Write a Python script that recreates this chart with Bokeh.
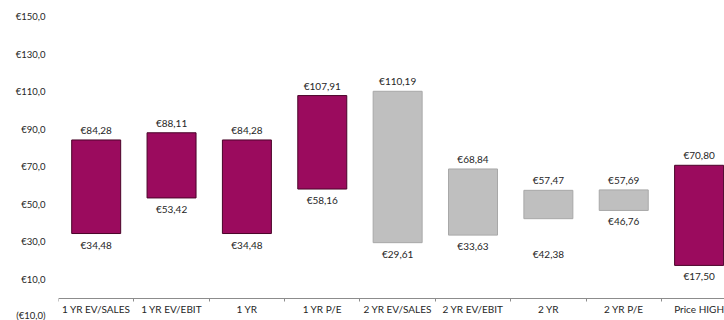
from bokeh.plotting import figure
from bokeh.models import Range1d, FixedTicker, LinearAxis, ColumnDataSource
from bokeh.embed import file_html
from bokeh.resources import INLINE
from bokeh.core.properties import value

categories = ["1 YR EV/SALES", "1 YR EV/EBIT", "1 YR\nEV/EBITDA", "1 YR P/E",
              "2 YR EV/SALES", "2 YR EV/EBIT", "2 YR\nEV/EBITDA", "2 YR P/E",
              "Price HIGH\nLOW"]
high = [84.28, 88.11, 84.28, 107.91, 110.19, 68.84, 57.47, 57.69, 70.80]
low = [34.48, 53.42, 34.48, 58.16, 29.61, 33.63, 42.38, 46.76, 17.50]
group = ["1yr", "1yr", "1yr", "1yr", "2yr", "2yr", "2yr", "2yr", "price"]
y_ticks = [-10, 10, 30, 50, 70, 90, 110, 130, 150]
y_tick_labels = ["(€10,0)", "€10,0", "€30,0", "€50,0", "€70,0", "€90,0",
                 "€110,0", "€130,0", "€150,0"]

MAGENTA = "#9b0b5e"
MAGENTA_LINE = "#4a0429"
GREY = "#bfbfbf"
GREY_LINE = "#a8a8a8"
FONT = "Lato"


def euro(v):
    return "€" + f"{v:.2f}".replace(".", ",")


centers = [i + 0.5 for i in range(len(categories))]
boundaries = list(range(len(categories) + 1))
fills = [GREY if g == "2yr" else MAGENTA for g in group]
lines = [GREY_LINE if g == "2yr" else MAGENTA_LINE for g in group]
low_offsets = [11] * len(low)
low_offsets[6] = 35  # label drawn further down in the original

src = ColumnDataSource(dict(x=centers, high=high, low=low, fill=fills, line=lines,
                            ht=[euro(v) for v in high], lt=[euro(v) for v in low],
                            lo=low_offsets))

p = figure(width=724, height=320, output_backend="svg", toolbar_location=None,
           x_range=Range1d(0, 8.837), y_range=Range1d(-11.82, 158.52),
           x_axis_type=None, min_border_left=58, min_border_right=0,
           min_border_top=0, min_border_bottom=0)
p.outline_line_color = None
p.xgrid.visible = False
p.ygrid.visible = False

yax = p.yaxis[0]
yax.ticker = FixedTicker(ticks=y_ticks, minor_ticks=[])
yax.major_label_overrides = {t: s for t, s in zip(y_ticks, y_tick_labels)}
yax.axis_line_color = None
yax.major_tick_line_color = None
yax.major_tick_in = 0
yax.major_tick_out = 0
yax.minor_tick_line_color = None
yax.major_label_standoff = 13
yax.major_label_text_font = FONT
yax.major_label_text_font_size = "9.5px"
yax.major_label_text_color = "#262626"

# category axis at zero: labels at centres, tick marks at category boundaries
lax = LinearAxis(fixed_location=0,
                 ticker=FixedTicker(ticks=centers, minor_ticks=boundaries))
lax.major_label_overrides = {c: s for c, s in zip(centers, categories)}
lax.axis_line_color = "#8c8c8c"
lax.major_tick_line_color = None
lax.major_tick_in = 0
lax.major_tick_out = 0
lax.minor_tick_line_color = "#8c8c8c"
lax.minor_tick_in = 0
lax.minor_tick_out = 3
lax.major_label_standoff = 2
lax.major_label_text_font = FONT
lax.major_label_text_font_size = "10px"
lax.major_label_text_color = "#262626"
p.add_layout(lax, "below")

p.vbar(x="x", width=0.65, bottom="low", top="high", source=src,
       fill_color="fill", line_color="line", line_width=1)

p.text(x="x", y="high", text="ht", source=src, y_offset=-10,
       text_align="center", text_baseline="middle",
       text_font=value(FONT), text_font_size="10px", text_color="#262626")
p.text(x="x", y="low", text="lt", source=src, y_offset="lo",
       text_align="center", text_baseline="middle",
       text_font=value(FONT), text_font_size="10px", text_color="#262626")

open("out.html", "w").write(file_html(p, INLINE))
